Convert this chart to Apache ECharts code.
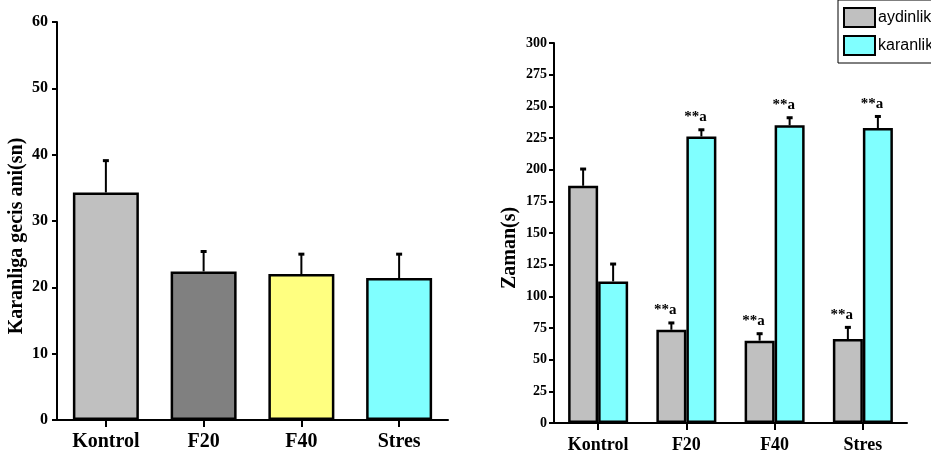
<!DOCTYPE html>
<html><head><meta charset="utf-8">
<script src="https://cdn.jsdelivr.net/npm/echarts@6/dist/echarts.min.js"></script>
<style>html,body{margin:0;padding:0;background:#fff}#c{width:931px;height:464px}</style>
</head><body><div id="c"></div>
<script>
const categories = ['Kontrol', 'F20', 'F40', 'Stres'];
// left panel: Karanliga gecis ani (sn)
const leftMeans = [34.3, 22.4, 22.0, 21.4];
const leftSem = [4.8, 3.0, 3.0, 3.6];
const leftColors = ['#c0c0c0', '#808080', '#ffff80', '#80ffff'];
// right panel: Zaman (s)
const aydinlikMeans = [187.3, 73.6, 65.0, 66.3];
const aydinlikSem = [13.2, 5.4, 5.5, 9.2];
const karanlikMeans = [111.8, 226.2, 235.0, 232.8];
const karanlikSem = [13.7, 5.3, 6.0, 9.2];
const aydinlikMarks = ['', '**a', '**a', '**a'];
const karanlikMarks = ['', '**a', '**a', '**a'];

const serif = '"Liberation Serif", "Times New Roman", serif';
const chart = echarts.init(document.getElementById('c'));

function errData(means, sems) {
  return means.map((m, i) => [i, m, m + sems[i]]);
}
function errRender(marks, frac, side) {
  return function (params, api) {
    const i = api.value(0);
    const band = api.size([1, 0])[0];
    const off = side * band * frac / 2;
    const p0 = api.coord([i, api.value(1)]);
    const p1 = api.coord([i, api.value(2)]);
    const x = p0[0] + off;
    const children = [
      { type: 'line', shape: { x1: x, y1: p0[1], x2: x, y2: p1[1] }, style: { stroke: '#000', lineWidth: 2 } },
      { type: 'rect', shape: { x: x - 3, y: p1[1] - 1.5, width: 6, height: 3 }, style: { fill: '#000' } }
    ];
    if (marks && marks[i]) {
      children.push({ type: 'text', x: x - 6, y: p1[1] - 5,
        style: { text: marks[i], font: 'bold 15px ' + serif, fill: '#000', align: 'center', verticalAlign: 'bottom' } });
    }
    return { type: 'group', children };
  };
}

const axisLine = { show: true, lineStyle: { color: '#000', width: 2 } };
const axisTickY = { show: true, length: 5, lineStyle: { color: '#000', width: 2 } };
const axisTickX = { show: true, length: 7, alignWithLabel: true, lineStyle: { color: '#000', width: 2 } };

const leftBarFrac = 0.675;
const rightBarFrac = 0.34;

chart.setOption({
  animation: false,
  backgroundColor: '#fff',
  grid: [
    { left: 57, top: 22, width: 391, height: 398 },
    { left: 554, top: 43, width: 353, height: 380 }
  ],
  legend: {
    data: ['aydinlik', 'karanlik'],
    orient: 'vertical',
    left: 838, top: 0,
    padding: [7, 30, 7, 5],
    icon: 'rect',
    itemWidth: 31, itemHeight: 19, itemGap: 7,
    borderColor: '#000', borderWidth: 1,
    textStyle: { fontFamily: '"Liberation Sans", Arial, sans-serif', fontSize: 16, color: '#000', padding: [0, 0, 0, -2] }
  },
  xAxis: [
    { type: 'category', gridIndex: 0, data: categories, axisLine, axisTick: axisTickX,
      axisLabel: { margin: 12, color: '#000', fontFamily: serif, fontWeight: 'bold', fontSize: 20 } },
    { type: 'category', gridIndex: 1, data: categories, axisLine, axisTick: axisTickX,
      axisLabel: { margin: 13, color: '#000', fontFamily: serif, fontWeight: 'bold', fontSize: 18 } }
  ],
  yAxis: [
    { type: 'value', gridIndex: 0, min: 0, max: 60, interval: 10, splitLine: { show: false },
      axisLine, axisTick: axisTickY,
      axisLabel: { margin: 9, color: '#000', fontFamily: serif, fontWeight: 'bold', fontSize: 16 },
      name: 'Karanliga gecis ani(sn)', nameLocation: 'middle', nameGap: 30,
      nameTextStyle: { color: '#000', fontFamily: serif, fontWeight: 'bold', fontSize: 20, padding: [0, 30, 0, 0] } },
    { type: 'value', gridIndex: 1, min: 0, max: 300, interval: 25, splitLine: { show: false },
      axisLine, axisTick: axisTickY,
      axisLabel: { margin: 7, color: '#000', fontFamily: serif, fontWeight: 'bold', fontSize: 14 },
      name: 'Zaman(s)', nameLocation: 'middle', nameGap: 34,
      nameTextStyle: { color: '#000', fontFamily: serif, fontWeight: 'bold', fontSize: 20, padding: [0, 30, 0, 0] } }
  ],
  series: [
    { type: 'bar', name: 'left', xAxisIndex: 0, yAxisIndex: 0, barWidth: (leftBarFrac * 100) + '%',
      data: leftMeans.map((v, i) => ({ value: v, itemStyle: { color: leftColors[i] } })),
      itemStyle: { borderColor: '#000', borderWidth: 2.5 } },
    { type: 'custom', name: 'leftErr', xAxisIndex: 0, yAxisIndex: 0, z: 5,
      data: errData(leftMeans, leftSem), encode: { x: 0, y: [1, 2] },
      renderItem: errRender(null, leftBarFrac, 0) },
    { type: 'bar', name: 'aydinlik', xAxisIndex: 1, yAxisIndex: 1, barWidth: (rightBarFrac * 100) + '%', barGap: '0%',
      data: aydinlikMeans, itemStyle: { color: '#c0c0c0', borderColor: '#000', borderWidth: 2.5 } },
    { type: 'bar', name: 'karanlik', xAxisIndex: 1, yAxisIndex: 1, barWidth: (rightBarFrac * 100) + '%', barGap: '0%',
      data: karanlikMeans, itemStyle: { color: '#80ffff', borderColor: '#000', borderWidth: 2.5 } },
    { type: 'custom', name: 'aydErr', xAxisIndex: 1, yAxisIndex: 1, z: 5,
      data: errData(aydinlikMeans, aydinlikSem), encode: { x: 0, y: [1, 2] },
      renderItem: errRender(aydinlikMarks, rightBarFrac * 2, -0.5) },
    { type: 'custom', name: 'karErr', xAxisIndex: 1, yAxisIndex: 1, z: 5,
      data: errData(karanlikMeans, karanlikSem), encode: { x: 0, y: [1, 2] },
      renderItem: errRender(karanlikMarks, rightBarFrac * 2, 0.5) }
  ]
});
</script></body></html>
